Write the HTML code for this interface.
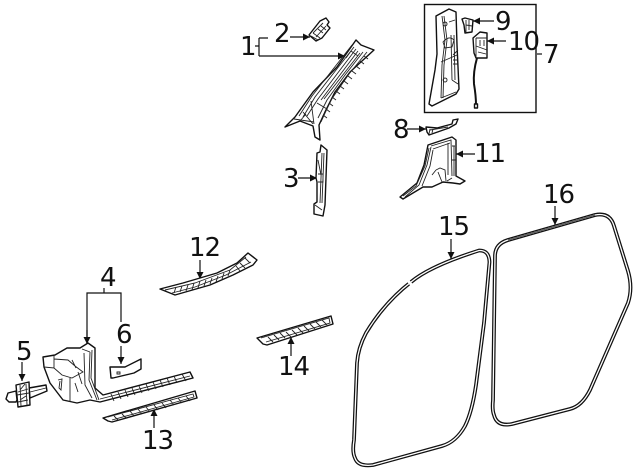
<!DOCTYPE html>
<html><head><meta charset="utf-8"><style>
html,body{margin:0;padding:0;background:#fff}
svg{display:block}
text{font-family:"DejaVu Sans",sans-serif;font-size:26px;letter-spacing:-1px;fill:#111}
.t{fill:none;stroke:#222;stroke-width:.9}
.p{fill:#fff;stroke:#111;stroke-width:1.4;stroke-linejoin:round}
.a{fill:none;stroke:#111;stroke-width:1.2}
</style></head><body>
<svg width="640" height="471" viewBox="0 0 640 471" xmlns="http://www.w3.org/2000/svg">
<defs><marker id="m" markerWidth="8" markerHeight="8" refX="7" refY="3.5" orient="auto" markerUnits="userSpaceOnUse"><path d="M0 0L7 3.5L0 7z" fill="#111"/></marker></defs>

<!-- labels -->
<text x="240" y="55">1</text><text x="274" y="42">2</text><text x="283" y="187">3</text>
<text x="100" y="286">4</text><text x="16" y="360">5</text><text x="116" y="343">6</text>
<text x="543" y="63">7</text><text x="393" y="138">8</text><text x="495" y="30">9</text>
<text x="508" y="50">10</text><text x="474" y="162">11</text><text x="189" y="256">12</text>
<text x="142" y="449">13</text><text x="278" y="375">14</text><text x="438" y="235">15</text><text x="543" y="203">16</text>

<!-- leader lines -->
<path class="a" d="M255 46H259M259 38V56M259 38H268M259 56H345" marker-end="url(#m)"/>
<path class="a" d="M290 37H310" marker-end="url(#m)"/>
<path class="a" d="M298 178H317" marker-end="url(#m)"/>
<path class="a" d="M494 21H473" marker-end="url(#m)"/>
<path class="a" d="M506 41H487" marker-end="url(#m)"/>
<path class="a" d="M537 54H542"/>
<path class="a" d="M407 129H426" marker-end="url(#m)"/>
<path class="a" d="M475 154H456" marker-end="url(#m)"/>
<path class="a" d="M200 260V279" marker-end="url(#m)"/>
<path class="a" d="M291 356V337" marker-end="url(#m)"/>
<path class="a" d="M451 239V259" marker-end="url(#m)"/>
<path class="a" d="M555 206V225" marker-end="url(#m)"/>
<path class="a" d="M104 288V293M87 344V293H121V322"/>
<path class="a" d="M87 330V344" marker-end="url(#m)"/>
<path class="a" d="M121 346V364" marker-end="url(#m)"/>
<path class="a" d="M22 362V381" marker-end="url(#m)"/>
<path class="a" d="M154 428V409" marker-end="url(#m)"/>

<!-- box 7 -->
<rect x="424.500" y="4.500" width="111.500" height="108" fill="none" stroke="#111" stroke-width="1.400"/>

<!-- part 2 -->
<path class="p" d="M309 35L320 21L326 18L329 22L327 25L330 28L322 38L316 41Z"/>
<path class="t" d="M313 33L323 23M316 37L326 26M313 33L320 38M318 29L323 33M321 26L326 30M311 36L318 40"/>

<!-- part 1 A pillar -->
<path class="p" d="M356 40L361 45L374 50L350 72L335 92L325 112L319 125L320 140L315 137L313 126L300 121L285 127L295 117L313 92L337 67Z"/>
<path class="t" d="M352 45L312 96L299 116M354 47L315 97L303 117M356 49L318 99L307 116M358 51L321 100M360 53L324 99M346 58L351 51L358 56M363 52L345 75L327 100L318 118M367 52L349 74L331 100L321 122M311 101L314 124M303 112L313 124M294 119L314 122M300 121L306 114M317 103L327 109"/>
<path class="t" d="M364 56L368 59M360 61L364 64M356 66L360 69M352 71L356 74M348 76L352 79M344 81L348 84M340 86L344 89M336 91L340 94M332 97L336 100M329 103L333 106M326 109L330 112M323 115L327 118"/>

<!-- part 3 -->
<path class="p" d="M321 145L327 150L325 205L323 216L314 214L314 204L317 202L317 182L316 178L317 153L320 152Z"/>
<path class="t" d="M322 153L320 203M324 153L322 203M318 174H323V182H318M315 205L322 210M318 160L321 175"/>

<!-- part 7 pillar -->
<path class="p" d="M436 16L449 9L456 12L457 45L459 89L456 94L432 106L429 104L435 70L437 54Z"/>
<path class="t" d="M442 16L445 40L442 65L441 98M444 16L447 40L444 65L443 98M441 62L457 55M441 98L456 92M449 22L455 20M443 42Q449 35 454 40L452 47L445 48ZM451 35L452 80M454 35L455 80M453 55L458 50M452 80L458 84M445 78a2 2 0 1 0 .1 0M445 22a2 2 0 1 0 .1 0M453 60H458M453 64H458"/>

<!-- part 9 -->
<path class="p" d="M462 19L465 18L473 20L472 32L465 33L464 25Z"/>
<path class="t" d="M466 20L466 32M466 25L472 26M469 20V30"/>

<!-- part 10 -->
<path class="p" d="M473 38L480 32L487 33L487 58L476 58L474 53Z"/>
<path class="t" d="M476 38L476 57M476 38L487 38M480 40V46M484 40V46M476 46L487 50M478 52L486 54"/>
<path fill="none" stroke="#111" stroke-width="2" d="M477 58Q473 72 474 84Q476 96 476 105"/>
<rect x="474.500" y="104" width="3" height="4" class="p"/>

<!-- part 8 -->
<path class="p" d="M426 127L437 128L452 124L453 120L458 119L456 124L449 128L429 135L427 132Z"/>
<path class="t" d="M430 129L429 134M430 130L448 127M433 129L432 133"/>

<!-- part 11 -->
<path class="p" d="M428 145L452 137L456 140L456 176L465 181L460 184L453 183L443 182L432 187L423 187L403 199L400 197L417 183L424 165Z"/>
<path class="t" d="M431 146L451 140L452 176M433 149L450 143M431 147L427 165L419 185L405 197M433 150L430 166L422 186M429 148L425 166L416 186L403 196M448 143L448 175M452 146L455 146M452 160L456 160M454 146V176M436 170L440 168L445 170L446 181M432 175L436 170M438 172L442 182M447 181L452 178"/>

<!-- part 12 -->
<path class="p" d="M160 289L183 283L217 273L237 263L248 253L257 260L253 265L233 275L210 285L175 295L170 293Z"/>
<path class="t" d="M165 290L195 283L230 270L246 257M172 293L195 287L226 275L251 262"/>
<path class="t" d="M176 287L174 293M182 286L180 292M188 285L186 291M194 283L192 290M200 281L198 288M206 280L204 286M212 278L210 284M218 276L216 282M224 273L222 279M230 270L228 276M236 266L240 271M240 263L245 268M245 258L250 263"/>

<!-- part 14 -->
<path class="p" d="M257 338L331 316L333 324L267 345L263 344Z"/>
<path class="t" d="M261 338L329 318L330 323L266 342"/>
<path class="t" d="M268 337L273 342M274 335L279 340M280 333L285 338M286 332L291 337M292 330L297 335M298 328L303 333M304 326L309 331M310 324L315 329M316 322L321 327M322 320L327 325"/>

<!-- part 4 -->
<path class="p" d="M43 357L55 355L67 348L80 348L88 343L95 348L95 388L103 395L190 372L193 378L100 402L90 400L77 403L63 400L50 383L44 367Z"/>
<path class="t" d="M54 356L54 368L44 367M54 368L62 375L72 378L83 372L75 366L68 360L54 359M84 353L85 385L92 398M90 352L89 380L97 400M92 350L91 378L99 400M72 360L76 368M82 349L90 352M58 380L62 379L61 390L59 388L60 381M70 378L70 402M75 383L78 392M78 372L82 384"/>
<path class="t" d="M100 399L190 376M182 374L186 381M174 376L177 383M167 378L170 385M160 380L163 387M153 382L156 389M146 384L149 391M139 386L142 393M132 388L135 395M125 390L128 397M118 392L121 399M111 394L114 401"/>

<!-- part 5 -->
<path class="p" d="M29 388L46 385L47 391L30 398Z"/>
<path class="p" d="M8 393L16 391L17 400L16 402L9 402L6 399Z"/>
<path class="p" d="M16 385L29 382L30 405L18 407Z"/>
<path class="t" d="M20 385L21 406M26 384L27 405M17 395L29 393M20 390L25 384M30 392L46 388M20 400L26 396M18 392L28 389M18 402L28 400"/>

<!-- part 6 -->
<path class="p" d="M110 367L125 367L141 359L141 369L134 373L113 378L111 378Z"/>
<path class="t" d="M117 372h3v2h-3z"/>

<!-- part 13 -->
<path class="p" d="M103 418L195 391L197 398L112 422L108 421Z"/>
<path class="t" d="M108 417L193 394L194 397L112 420"/>
<path class="t" d="M114 416L118 420M122 414L126 418M130 411L134 416M138 409L142 414M146 407L150 412M154 405L158 410M162 403L166 408M170 400L174 405M178 398L182 403M186 396L190 401"/>

<!-- seal 15 -->
<path fill="none" stroke="#111" stroke-width="3.800" stroke-linejoin="round" d="M479 250.500Q489 250 489.500 262L484 323L476 385Q472 412 465 426Q456 442 442 446L373 465Q358 467 355 458Q352 452 354 440L357 363Q358 348 366 333Q384 303 411 282Q430 266 479 250.500Z"/>
<path fill="none" stroke="#fff" stroke-width="1.300" stroke-linejoin="round" d="M479 250.500Q489 250 489.500 262L484 323L476 385Q472 412 465 426Q456 442 442 446L373 465Q358 467 355 458Q352 452 354 440L357 363Q358 348 366 333Q384 303 411 282Q430 266 479 250.500Z"/>
<path fill="none" stroke="#fff" stroke-width="5" d="M408.800 283.800L411 282"/>

<!-- seal 16 -->
<path fill="none" stroke="#111" stroke-width="3.800" stroke-linejoin="round" d="M595 215Q610 212 614 226L628 271Q633 288 628 303L590 390Q582 406 570 409L512 424Q497 427 494 415Q492 410 493 400L495 256Q495 244 508 240Z"/>
<path fill="none" stroke="#fff" stroke-width="1.300" stroke-linejoin="round" d="M595 215Q610 212 614 226L628 271Q633 288 628 303L590 390Q582 406 570 409L512 424Q497 427 494 415Q492 410 493 400L495 256Q495 244 508 240Z"/>
<path fill="none" stroke="#333" stroke-width=".8" d="M508 240L595 215"/>
</svg>
</body></html>
